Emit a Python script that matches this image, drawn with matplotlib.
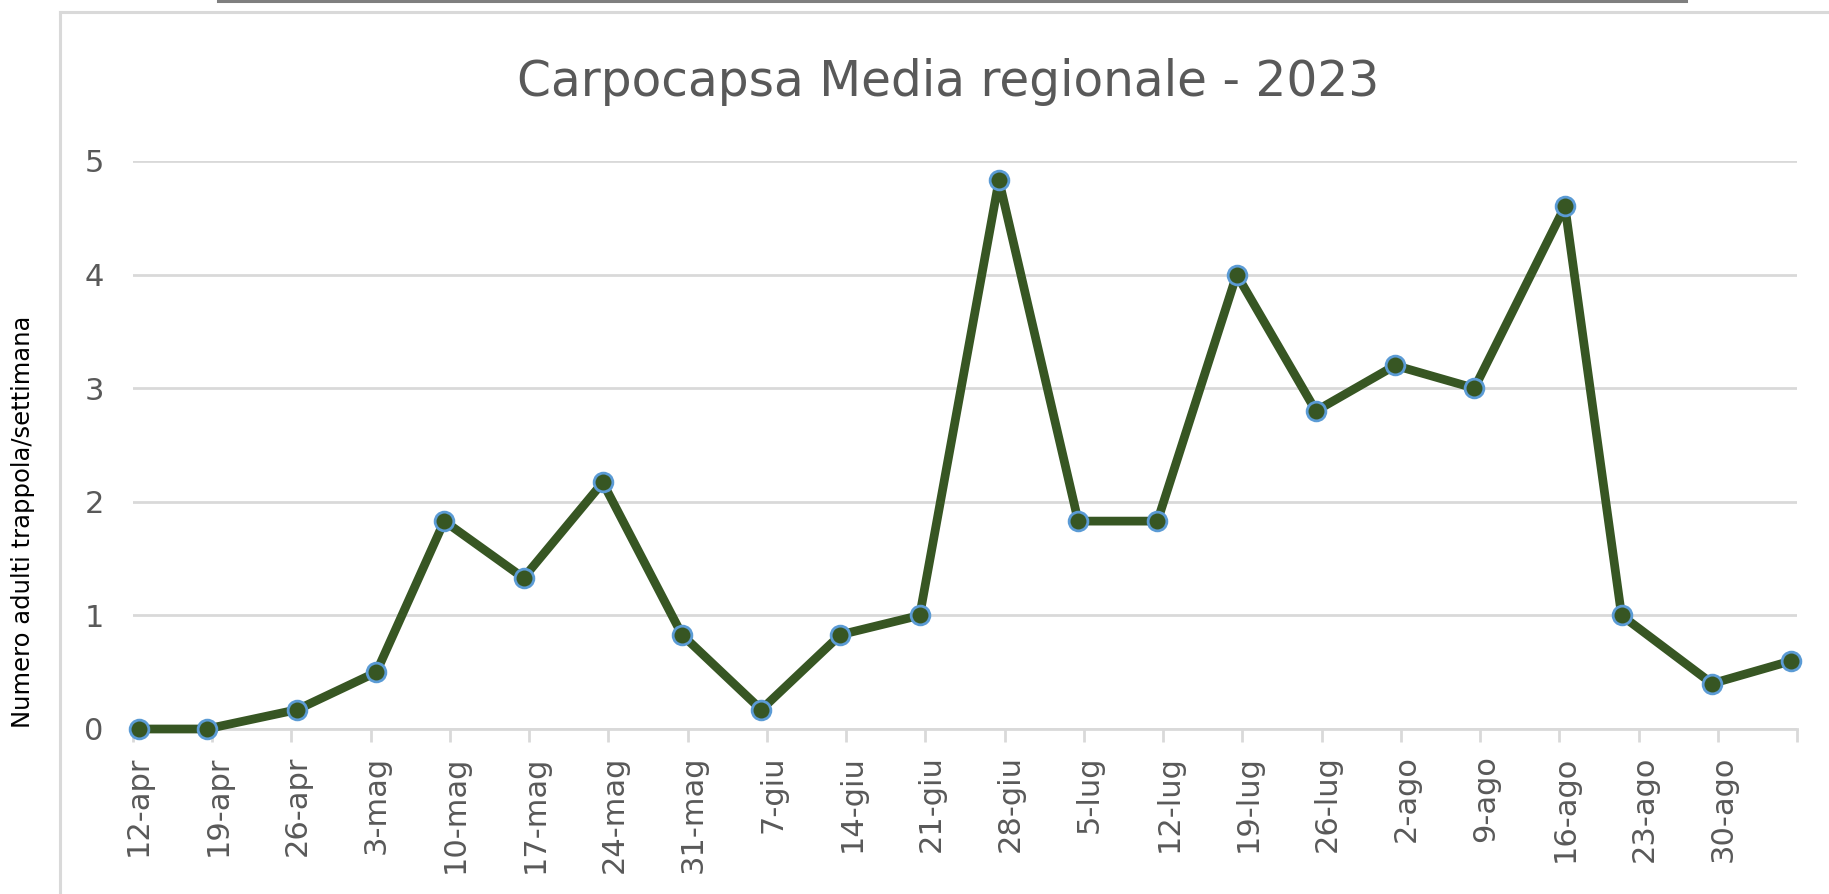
import pandas as pd
import matplotlib
matplotlib.use("Agg")
import matplotlib.pyplot as plt
import matplotlib.dates as mdates
from matplotlib.lines import Line2D

# DATOS ------------------------------------------
fechas = ["2023-04-12", "2023-04-18", "2023-04-26", "2023-05-03", "2023-05-09",
          "2023-05-16", "2023-05-23", "2023-05-30", "2023-06-06", "2023-06-13",
          "2023-06-20", "2023-06-27", "2023-07-04", "2023-07-11", "2023-07-18",
          "2023-07-25", "2023-08-01", "2023-08-08", "2023-08-16", "2023-08-21",
          "2023-08-29", "2023-09-05"]
adultos = [0, 0, 0.17, 0.5, 1.83, 1.33, 2.17, 0.83, 0.17, 0.83, 1.0,
           4.83, 1.83, 1.83, 4.0, 2.8, 3.2, 3.0, 4.6, 1.0, 0.4, 0.6]
etiquetas_x = ["12-apr", "19-apr", "26-apr", "3-mag", "10-mag", "17-mag", "24-mag",
               "31-mag", "7-giu", "14-giu", "21-giu", "28-giu", "5-lug", "12-lug",
               "19-lug", "26-lug", "2-ago", "9-ago", "16-ago", "23-ago", "30-ago"]
valores_y = [0, 1, 2, 3, 4, 5]

titulo = "Carpocapsa Media regionale - 2023"
etiqueta_y = "Numero adulti trappola/settimana"

# POSICIONES EN EL EJE DE FECHAS ------------------
# cada fecha ocupa una casilla de un dia, el punto va en el centro
x = mdates.date2num(pd.to_datetime(fechas)) + 0.5
inicio = mdates.date2num(pd.Timestamp("2023-04-12"))
fin = inicio + 7 * len(etiquetas_x)
ticks_mayores = [inicio + 7 * i for i in range(len(etiquetas_x) + 1)]
ticks_menores = [inicio + 7 * i + 0.5 for i in range(len(etiquetas_x))]

verde = "#375623"
azul = "#5b9bd5"
gris_rejilla = "#d9d9d9"
gris_texto = "#595959"

# FIGURA -----------------------------------------
fig = plt.figure(figsize=(18.29, 8.94), dpi=100)
ax = fig.add_axes([133 / 1829, 1 - 729 / 894, (1797 - 133) / 1829, (729 - 161) / 894])

ax.plot(x, adultos, color=verde, linewidth=6.3, marker="o", markersize=13.5,
        markerfacecolor=verde, markeredgecolor=azul, markeredgewidth=2.0,
        clip_on=False, zorder=3)

ax.set_xlim(inicio, fin)
ax.set_ylim(0, 5)

# rejilla horizontal
ax.set_yticks(valores_y)
ax.set_yticklabels([str(v) for v in valores_y])
ax.grid(axis="y", color=gris_rejilla, linewidth=2.0)
ax.set_axisbelow(True)
ax.tick_params(axis="y", length=0, pad=21, labelsize=22, labelcolor=gris_texto)

# eje x: marcas en los limites de semana, etiquetas centradas en el dia
ax.set_xticks(ticks_mayores)
ax.set_xticklabels([""] * len(ticks_mayores))
ax.set_xticks(ticks_menores, minor=True)
ax.set_xticklabels(etiquetas_x, minor=True, rotation=90)
ax.tick_params(axis="x", which="major", length=9, width=2.0, color=gris_rejilla, direction="out")
ax.tick_params(axis="x", which="minor", length=0, pad=19, labelsize=22, labelcolor=gris_texto)

for lado in ["top", "right", "left"]:
    ax.spines[lado].set_visible(False)
ax.spines["bottom"].set_color(gris_rejilla)
ax.spines["bottom"].set_linewidth(2.0)

# titulo y etiqueta del eje y
fig.text(948 / 1829, 1 - 82 / 894, titulo, ha="center", va="center",
         fontsize=35, color=gris_texto, family="DejaVu Sans")
fig.text(23 / 1829, 1 - 522 / 894, etiqueta_y, ha="center", va="center",
         rotation=90, fontsize=17.5, color="black", family="DejaVu Sans")

# marco del grafico y linea superior
fig.add_artist(Line2D([60 / 1829, 1.0], [1 - 12 / 894, 1 - 12 / 894],
                      transform=fig.transFigure, color=gris_rejilla, linewidth=2.2))
fig.add_artist(Line2D([60 / 1829, 60 / 1829], [0.0, 1 - 12 / 894],
                      transform=fig.transFigure, color=gris_rejilla, linewidth=2.2))
fig.add_artist(Line2D([218 / 1829, 1686 / 1829], [1 - 1 / 894, 1 - 1 / 894],
                      transform=fig.transFigure, color="#7f7f7f", linewidth=2.2))

fig.savefig("out.png", dpi=100)
plt.close()
